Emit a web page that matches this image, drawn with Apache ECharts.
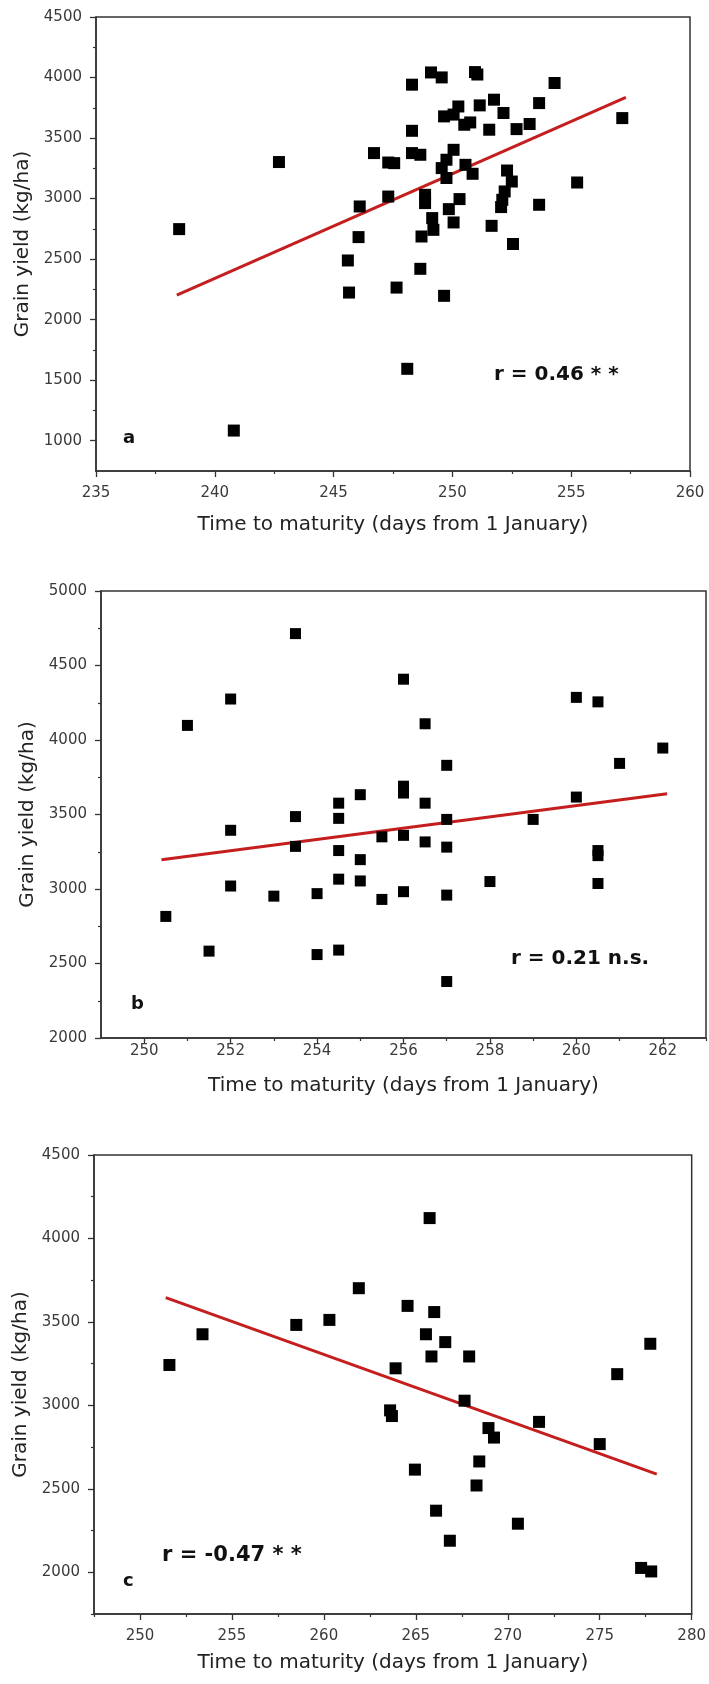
<!DOCTYPE html>
<html><head><meta charset="utf-8">
<script src="https://cdn.jsdelivr.net/npm/echarts@6/dist/echarts.min.js"></script>
<style>html,body{margin:0;padding:0;background:#fff}#c{width:709px;height:1684px}</style>
</head><body><div id="c"></div>
<script>
// ---------- Panel a ----------
const aX = [238.5,240.8,242.7,245.6,245.65,246.05,246.1,246.7,247.3,247.55,247.3,247.65,248.1,248.3,248.3,248.3,248.65,248.65,248.7,248.85,248.85,249.1,249.15,249.2,249.55,249.65,249.55,249.65,249.75,249.75,249.85,250.05,250.05,250.05,250.25,250.3,250.5,250.55,250.75,250.85,250.95,251.05,251.15,251.55,251.65,251.75,252.05,252.1,252.2,252.15,252.3,252.5,252.55,252.7,253.25,253.65,253.65,254.3,255.25,257.15];
const aY = [2748,1084,3302,2489,2224,2682,2935,3376,3298,3293,3017,2265,1594,3941,3560,3376,3362,2420,2687,3031,2963,4042,2839,2742,4001,3679,3252,2197,3321,3170,2913,3694,3403,2803,3761,2996,3610,3279,3629,3205,4045,4025,3770,3569,2775,3817,2930,2990,3059,3707,3232,3141,2625,3574,3616,3789,2949,3955,3133,3665];
const aFitX = [238.4, 257.3];
const aFitY = [2203, 3836];
const aXTicks = [235,240,245,250,255,260];
const aXMinor = [237.5,242.5,247.5,252.5,257.5];
const aYTicks = [1000,1500,2000,2500,3000,3500,4000,4500];
const aYMinor = [1250,1750,2250,2750,3250,3750,4250];

// ---------- Panel b ----------
const bX = [250.5,251,251.5,252,252,252,253,253.5,253.5,253.5,254,254,254.5,254.5,254.5,254.5,254.5,255,255,255,255.5,255.5,256,256,256,256,256,256.5,256.5,256.5,257,257,257,257,257,258,259,260,260,260.5,260.5,260.5,260.5,261,262];
const bY = [2816,4098,2583,4275,3394,3020,2952,4714,3486,3286,2969,2560,3576,3474,3258,3066,2590,3633,3197,3054,3350,2930,4408,3690,3644,3360,2982,4109,3576,3316,3830,3467,3281,2959,2379,3050,3467,4286,3617,4256,3258,3224,3037,3843,3946];
const bFitX = [250.4, 262.1];
const bFitY = [3196, 3639];
const bXTicks = [250,252,254,256,258,260,262];
const bXMinor = [251,253,255,257,259,261,263];
const bYTicks = [2000,2500,3000,3500,4000,4500,5000];
const bYMinor = [2250,2750,3250,3750,4250,4750];

// ---------- Panel c ----------
const cX = [251.6,253.4,258.5,260.3,261.9,263.6,263.7,263.9,264.55,264.95,265.55,265.75,265.85,266.0,266.1,266.6,266.85,267.65,267.9,268.3,268.45,268.95,269.25,270.55,271.7,275.0,275.95,277.25,277.75,277.8];
const cY = [3242,3426,3482,3512,3702,2970,2936,3222,3596,2615,3426,4122,3293,3559,2369,3379,2189,3028,3293,2520,2664,2864,2807,2291,2901,2768,3187,2026,3369,2005];
const cFitX = [251.4, 278.1];
const cFitY = [3645, 2588];
const cXTicks = [250,255,260,265,270,275,280];
const cXMinor = [247.5,252.5,257.5,262.5,267.5,272.5,277.5];
const cYTicks = [2000,2500,3000,3500,4000,4500];
const cYMinor = [1750,2250,2750,3250,3750,4250];

const xTitle = 'Time to maturity (days from 1 January)';
const yTitle = 'Grain yield (kg/ha)';

const FONT = 'DejaVu Sans';
const AX = '#333';

const panels = [
  {grid:{left:96,top:17,width:594,height:454}, x:aX, y:aY, fx:aFitX, fy:aFitY,
   xr:[235,260], yr:[750,4500], xs:2.5, ys:250, xT:aXTicks, xM:aXMinor, yT:aYTicks, yM:aYMinor,
   xMargin:15, xGap:44, yGap:61, size:12},
  {grid:{left:101,top:591,width:605,height:447}, x:bX, y:bY, fx:bFitX, fy:bFitY,
   xr:[249,263], yr:[2000,5000], xs:1, ys:250, xT:bXTicks, xM:bXMinor, yT:bYTicks, yM:bYMinor,
   xMargin:6, xGap:38, yGap:59, size:11},
  {grid:{left:94,top:1155,width:608,height:459}, x:cX, y:cY, fx:cFitX, fy:cFitY,
   xr:[247.5,280], yr:[1750,4500], xs:2.5, ys:250, xT:cXTicks, xM:cXMinor, yT:cYTicks, yM:cYMinor,
   xMargin:15, xGap:39, yGap:61, size:12}
];

const grids = [], xAxes = [], yAxes = [], series = [];
const plain = v => String(v);
panels.forEach((p, i) => {
  grids.push(Object.assign({show:true, borderColor:AX, borderWidth:1.5, backgroundColor:'transparent', containLabel:false}, p.grid));
  const lbl = {fontFamily:FONT, fontSize:15, color:'#3a3a3a', formatter:plain};
  xAxes.push({gridIndex:i, type:'value', position:'bottom', min:p.xr[0], max:p.xr[1], interval:p.xs,
    axisLine:{show:true, onZero:false, lineStyle:{color:AX, width:1.5}},
    axisTick:{show:true, customValues:p.xT, length:6, lineStyle:{color:AX, width:1.3}},
    axisLabel:Object.assign({customValues:p.xT, margin:p.xMargin}, lbl),
    splitLine:{show:false},
    name:xTitle, nameLocation:'middle', nameGap:p.xGap,
    nameTextStyle:{fontFamily:FONT, fontSize:20, color:'#222'}});
  xAxes.push({gridIndex:i, type:'value', position:'bottom', min:p.xr[0], max:p.xr[1], interval:p.xs,
    axisLine:{show:false}, axisLabel:{show:false}, splitLine:{show:false},
    axisTick:{show:true, customValues:p.xM, length:3, lineStyle:{color:AX, width:1.2}}});
  yAxes.push({gridIndex:i, type:'value', position:'left', min:p.yr[0], max:p.yr[1], interval:p.ys,
    axisLine:{show:true, onZero:false, lineStyle:{color:AX, width:1.5}},
    axisTick:{show:true, customValues:p.yT, length:6, lineStyle:{color:AX, width:1.3}},
    axisLabel:Object.assign({customValues:p.yT, margin:14}, lbl),
    splitLine:{show:false},
    name:yTitle, nameLocation:'middle', nameGap:p.yGap,
    nameTextStyle:{fontFamily:FONT, fontSize:20, color:'#222'}});
  yAxes.push({gridIndex:i, type:'value', position:'left', min:p.yr[0], max:p.yr[1], interval:p.ys,
    axisLine:{show:false}, axisLabel:{show:false}, splitLine:{show:false},
    axisTick:{show:true, customValues:p.yM, length:3, lineStyle:{color:AX, width:1.2}}});
  series.push({type:'scatter', xAxisIndex:2*i, yAxisIndex:2*i, symbol:'rect', symbolSize:p.size,
    itemStyle:{color:'#000', opacity:1}, data:p.x.map((v, k) => [v, p.y[k]]), animation:false, z:3});
  series.push({type:'line', xAxisIndex:2*i, yAxisIndex:2*i, symbol:'none',
    lineStyle:{color:'#c41e1e', width:3}, data:p.fx.map((v, k) => [v, p.fy[k]]), animation:false, z:2});
});

function txt(x, y, s, size) {
  return {type:'text', x:x, y:y, style:{text:s, font:'bold ' + size + 'px "DejaVu Sans"', fill:'#111', textAlign:'left', textVerticalAlign:'middle'}};
}

const chart = echarts.init(document.getElementById('c'), null, {renderer:'canvas'});
chart.setOption({
  animation:false,
  backgroundColor:'#fff',
  grid:grids, xAxis:xAxes, yAxis:yAxes, series:series,
  graphic:[
    txt(123, 438, 'a', 18),
    txt(494, 375, 'r = 0.46 * *', 20),
    txt(131, 1004, 'b', 18),
    txt(511, 959, 'r = 0.21 n.s.', 20),
    txt(123, 1581, 'c', 18),
    txt(162, 1556, 'r = -0.47 * *', 21)
  ]
});
</script></body></html>
